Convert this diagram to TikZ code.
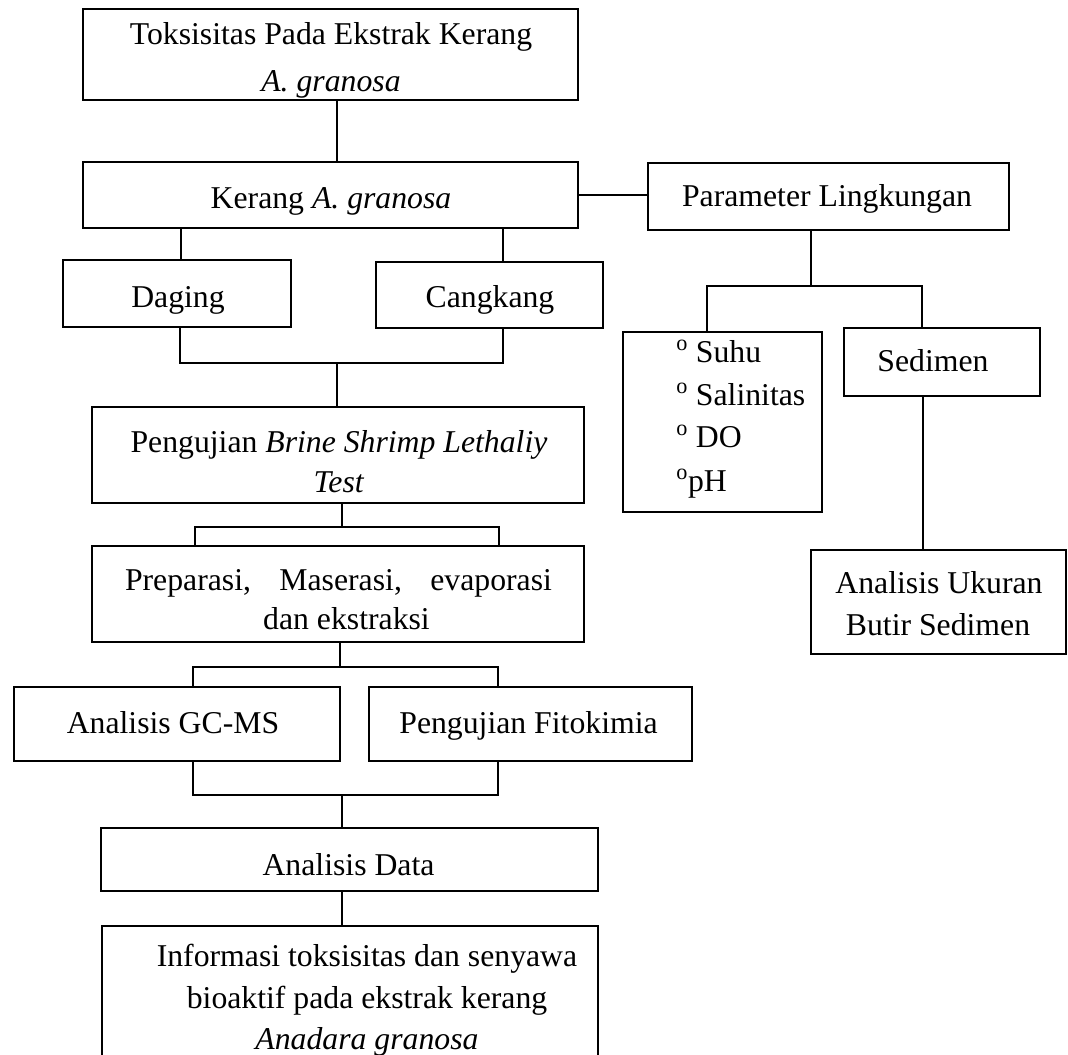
\documentclass[tikz,border=0pt]{standalone}
\usepackage{fontspec}
\setmainfont{Liberation Serif}
\usetikzlibrary{calc}
\tikzset{
  boxst/.style={draw=black, line width=2pt, rectangle, inner sep=0pt, outer sep=0pt},
  conn/.style={draw=black, line width=1.3pt},
  txt/.style={font=\fontsize{23.8}{28}\selectfont, inner sep=0pt, anchor=base},
  txtl/.style={txt, anchor=base west},
}
\newcommand\pbox[5]{\node[boxst, minimum width={(#4-#2)*0.75pt}, minimum height={(#5-#3)*0.75pt}] (#1) at ({(#2+#4)/2},{(#3+#5)/2}) {};}
\begin{document}
\begin{tikzpicture}[x=0.75pt, y=-0.75pt]
\useasboundingbox (0,0) rectangle (1068,1055);
\clip (0,0) rectangle (1068,1055);
% boxes
\pbox{toks}{83}{9}{578}{100}
\pbox{kerang}{83}{162}{578}{228}
\pbox{param}{648}{163}{1009}{230}
\pbox{daging}{63}{260}{291}{327}
\pbox{cangkang}{376}{262}{603}{328}
\pbox{suhu}{623}{332}{822}{512}
\pbox{sedimen}{844}{328}{1040}{396}
\pbox{ukuran}{811}{550}{1066}{654}
\pbox{brine}{92}{407}{584}{503}
\pbox{prep}{92}{546}{584}{642}
\pbox{gcms}{14}{687}{340}{761}
\pbox{fito}{369}{687}{692}{761}
\pbox{data}{101}{828}{598}{891}
\pbox{info}{102}{926}{598}{1090}
% texts
\node[txt] (t-toks1) at (331,45) {Toksisitas Pada Ekstrak Kerang};
\node[txt] (t-toks2) at (331,92) {\textit{A. granosa}};
\node[txt] (t-kerang) at (331,209) {Kerang \textit{A. granosa}};
\node[txt] (t-param) at (827,207) {Parameter Lingkungan};
\node[txt] (t-daging) at (178,308) {Daging};
\node[txt] (t-cangkang) at (490,308) {Cangkang};
\node[txtl] (t-s1) at (676,363) {\textsuperscript{o} Suhu};
\node[txtl] (t-s2) at (676,406) {\textsuperscript{o} Salinitas};
\node[txtl] (t-s3) at (676,448) {\textsuperscript{o} DO};
\node[txtl] (t-s4) at (676,492) {\textsuperscript{o}pH};
\node[txt] (t-sedimen) at (933,372) {Sedimen};
\node[txt] (t-uk1) at (939,594) {Analisis Ukuran};
\node[txt] (t-uk2) at (938,635) {Butir Sedimen};
\node[txt] (t-brine1) at (339,453) {Pengujian \textit{Brine Shrimp Lethaliy}};
\node[txt] (t-brine2) at (339,493) {\textit{Test}};
\node[txt] (t-prep1) at (338.5,590) {\makebox[320.25pt][s]{Preparasi, Maserasi, evaporasi}};
\node[txt] (t-prep2) at (346.5,629) {dan ekstraksi};
\node[txt] (t-gcms) at (173,733) {Analisis GC-MS};
\node[txt] (t-fito) at (528.5,733) {Pengujian Fitokimia};
\node[txt] (t-data) at (348.5,875) {Analisis Data};
\node[txt] (t-info1) at (367,966) {Informasi toksisitas dan senyawa};
\node[txt] (t-info2) at (367,1008) {bioaktif pada ekstrak kerang};
\node[txt] (t-info3) at (367,1049) {\textit{Anadara granosa}};
% junctions
\coordinate (jDC) at (337,363);
\coordinate (jBP) at (342,527);
\coordinate (jPA) at (340,667);
\coordinate (jAD) at (342,795);
\coordinate (jPS) at (811,286);
% connectors
\draw[conn] (337,0 |- toks.south) -- (337,0 |- kerang.north);
\draw[conn] (kerang.east) -- (kerang.east -| param.west);
\draw[conn] (181,0 |- kerang.south) -- (181,0 |- daging.north);
\draw[conn] (503,0 |- kerang.south) -- (503,0 |- cangkang.north);
\draw[conn] (180,0 |- daging.south) |- (jDC) -| (503,0 |- cangkang.south);
\draw[conn] (jDC) -- (337,0 |- brine.north);
\draw[conn] (342,0 |- brine.south) -- (jBP);
\draw[conn] (195,0 |- prep.north) |- (jBP) -| (499,0 |- prep.north);
\draw[conn] (340,0 |- prep.south) -- (jPA);
\draw[conn] (193,0 |- gcms.north) |- (jPA) -| (498,0 |- fito.north);
\draw[conn] (193,0 |- gcms.south) |- (jAD) -| (498,0 |- fito.south);
\draw[conn] (jAD) -- (342,0 |- data.north);
\draw[conn] (342,0 |- data.south) -- (342,0 |- info.north);
\draw[conn] (811,0 |- param.south) -- (jPS);
\draw[conn] (707,0 |- suhu.north) |- (jPS) -| (922,0 |- sedimen.north);
\draw[conn] (923,0 |- sedimen.south) -- (923,0 |- ukuran.north);
\end{tikzpicture}
\end{document}
